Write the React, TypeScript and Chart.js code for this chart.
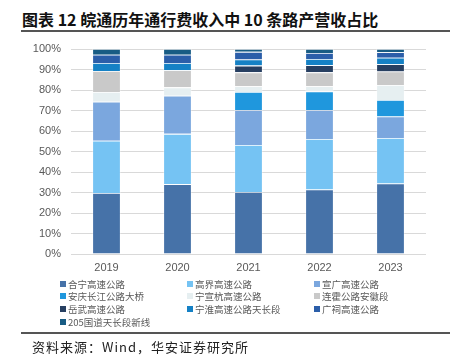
import React, { useEffect, useRef } from "react";
import { Chart, registerables } from "chart.js";

Chart.register(...registerables);

const years = ["2019", "2020", "2021", "2022", "2023"];
const seriesNames = [
  "合宁高速公路",
  "高界高速公路",
  "宣广高速公路",
  "安庆长江公路大桥",
  "宁宣杭高速公路",
  "连霍公路安徽段",
  "岳武高速公路",
  "宁淮高速公路天长段",
  "广祠高速公路",
  "205国道天长段新线",
];
const seriesColors = [
  "#4672A8",
  "#75C3F3",
  "#7BA7DE",
  "#1F97DD",
  "#E6EFF1",
  "#C9C9C9",
  "#273F61",
  "#1581C5",
  "#2B5EA9",
  "#185C84",
];
const heningShare = [29.8, 34.1, 30.3, 31.5, 34.4];
const gaojieShare = [25.5, 24.5, 22.9, 24.6, 22.2];
const xuanguangShare = [19.0, 18.6, 17.1, 14.2, 10.5];
const anqingBridgeShare = [0, 0, 8.7, 9.0, 8.0];
const ningxuanhangShare = [4.7, 4.1, 2.8, 2.5, 7.4];
const lianhuoShare = [10.3, 8.3, 6.8, 6.8, 6.5];
const yuewuShare = [0, 0, 3.3, 3.5, 3.6];
const ninghuaiShare = [3.9, 3.6, 3.0, 3.0, 3.1];
const guangciShare = [4.0, 4.0, 3.7, 3.0, 2.7];
const road205Share = [2.8, 2.8, 1.4, 1.9, 1.6];
const seriesValues = [
  heningShare,
  gaojieShare,
  xuanguangShare,
  anqingBridgeShare,
  ningxuanhangShare,
  lianhuoShare,
  yuewuShare,
  ninghuaiShare,
  guangciShare,
  road205Share,
];
const yTicks = [0, 10, 20, 30, 40, 50, 60, 70, 80, 90, 100];

const titleText = "图表 12 皖通历年通行费收入中 10 条路产营收占比";
const sourceText = "资料来源：Wind，华安证券研究所";

export default function App() {
  const canvasRef = useRef<HTMLCanvasElement | null>(null);

  useEffect(() => {
    const canvas = canvasRef.current;
    if (!canvas) return;
    const chart = new Chart(canvas, {
      type: "bar",
      data: {
        labels: years,
        datasets: seriesNames.map((name, i) => ({
          label: name,
          data: seriesValues[i],
          backgroundColor: seriesColors[i],
          borderColor: "rgba(255,255,255,0.55)",
          borderWidth: 0.8,
          barPercentage: 0.4,
          categoryPercentage: 1,
        })),
      },
      options: {
        animation: false,
        responsive: true,
        maintainAspectRatio: false,
        layout: { padding: { top: 49, right: 24, bottom: 0, left: 0 } },
        plugins: {
          legend: { display: false },
          tooltip: { enabled: false },
          title: { display: false },
        },
        scales: {
          x: {
            stacked: true,
            grid: { display: false, drawTicks: false },
            border: { display: false },
            ticks: {
              padding: 7,
              color: "#595959",
              font: { family: "Liberation Sans, Arial, sans-serif", size: 11 },
            },
            afterFit: (scale: any) => {
              scale.height = 26;
            },
          },
          y: {
            stacked: true,
            min: 0,
            max: 100,
            afterBuildTicks: (scale: any) => {
              scale.ticks = yTicks.map((v) => ({ value: v }));
            },
            grid: { color: "#D9D9D9", lineWidth: 1, drawTicks: false },
            border: { display: false },
            ticks: {
              padding: 10,
              color: "#595959",
              font: { family: "Liberation Sans, Arial, sans-serif", size: 11 },
              callback: (v: any) => `${v}%`,
            },
            afterFit: (scale: any) => {
              scale.width = 71;
            },
          },
        },
      },
    });
    return () => chart.destroy();
  }, []);

  const legendCols = [60, 187, 314];
  const legendRows = [277.5, 290, 303, 315.7];

  return (
    <div
      style={{
        position: "absolute",
        left: 0,
        top: 0,
        width: 450,
        height: 361,
        background: "#fff",
        overflow: "hidden",
      }}
    >
      <div
        style={{
          position: "absolute",
          left: 22,
          top: 8,
          fontFamily: "'Noto Sans CJK SC', sans-serif",
          fontWeight: 700,
          fontSize: 16,
          lineHeight: "22px",
          color: "#111",
          whiteSpace: "nowrap",
        }}
      >
        {titleText}
      </div>
      <div
        style={{
          position: "absolute",
          left: 21,
          top: 30,
          width: 429,
          height: 1.5,
          background: "#555",
        }}
      />
      <div style={{ position: "absolute", left: 0, top: 0, width: 450, height: 280 }}>
        <canvas ref={canvasRef} />
      </div>
      {seriesNames.map((name, i) => {
        const col = i % 3;
        const row = Math.floor(i / 3);
        return (
          <div
            key={name}
            style={{
              position: "absolute",
              left: legendCols[col],
              top: legendRows[row],
              height: 12,
              display: "flex",
              alignItems: "center",
              whiteSpace: "nowrap",
              fontFamily: "'Noto Sans CJK SC', sans-serif",
              fontSize: 9.5,
              lineHeight: "12px",
              color: "#595959",
            }}
          >
            <span
              style={{
                display: "inline-block",
                width: 6,
                height: 6,
                background: seriesColors[i],
                marginRight: 2,
              }}
            />
            <span>{name}</span>
          </div>
        );
      })}
      <div
        style={{
          position: "absolute",
          left: 21,
          top: 332,
          width: 429,
          height: 1.5,
          background: "#555",
        }}
      />
      <div
        style={{
          position: "absolute",
          left: 32,
          top: 338,
          fontFamily: "'Noto Sans CJK SC', sans-serif",
          fontSize: 13,
          letterSpacing: 1,
          lineHeight: "18px",
          color: "#222",
          whiteSpace: "nowrap",
        }}
      >
        {sourceText}
      </div>
    </div>
  );
}
